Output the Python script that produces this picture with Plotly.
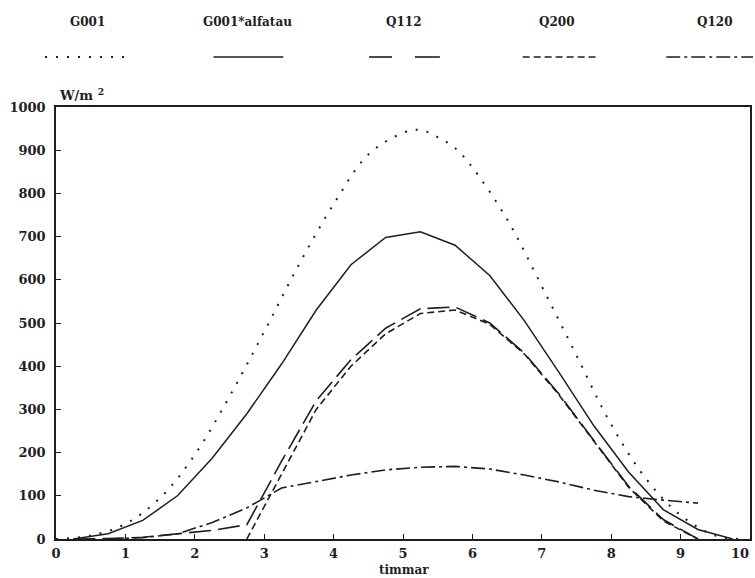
import plotly.graph_objects as go

# Solar irradiance on a surface over the day, hours after sunrise
t_g001 = [0.0, 0.5, 1.0, 1.5, 2.0, 2.5, 3.0, 3.5, 4.0, 4.5, 5.0, 5.25, 5.5, 5.75,
          6.0, 6.5, 7.0, 7.5, 8.0, 8.5, 9.0, 9.5, 9.9]
g001 = [0, 8, 35, 95, 195, 330, 480, 635, 775, 890, 940, 947, 930, 905,
        860, 740, 585, 425, 265, 140, 55, 8, 0]

t_half = [0.25, 0.75, 1.25, 1.75, 2.25, 2.75, 3.25, 3.75, 4.25, 4.75,
          5.25, 5.75, 6.25, 6.75, 7.25, 7.75, 8.25, 8.75, 9.25, 9.75]
g001_alfatau = [0, 12, 43, 100, 187, 290, 405, 530, 635, 698,
                711, 680, 610, 505, 385, 262, 155, 68, 22, 0]

t_q112 = [0.25, 0.75, 1.25, 1.75, 2.25, 2.75, 3.25, 3.75, 4.25, 4.75,
          5.25, 5.75, 6.25, 6.75, 7.25, 7.75, 8.25, 8.75, 9.25]
q112 = [0, 1, 4, 12, 20, 33, 180, 320, 415, 488,
        533, 537, 500, 430, 335, 228, 122, 45, 0]

t_q200 = [2.75, 3.25, 3.75, 4.25, 4.75, 5.25, 5.75, 6.25, 6.75, 7.25,
          7.75, 8.25, 8.75, 9.25]
q200 = [0, 150, 300, 400, 475, 522, 530, 497, 428, 333,
        226, 120, 42, 0]

t_q120 = [0.75, 1.25, 1.75, 2.25, 2.75, 3.25, 3.75, 4.25, 4.75, 5.25,
          5.75, 6.25, 6.75, 7.25, 7.75, 8.25, 8.75, 9.25]
q120 = [0, 3, 12, 38, 72, 118, 133, 148, 160, 166,
        168, 162, 148, 132, 113, 98, 90, 83]

x_ticks = list(range(0, 11))
y_ticks = list(range(0, 1001, 100))

series_names = ["G001", "G001*alfatau", "Q112", "Q200", "Q120"]
INK = "#1e1e1e"
FONT = "DejaVu Serif"

# (x data, y data, dash pattern, width, shape)
styles = [
    (t_g001, g001, "2px,9px", 2.0, "spline"),
    (t_half, g001_alfatau, "solid", 1.5, "linear"),
    (t_q112, q112, "22px,7px", 1.6, "linear"),
    (t_q200, q200, "7px,4px", 1.6, "linear"),
    (t_q120, q120, "14px,4px,3px,4px", 1.6, "linear"),
]

fig = go.Figure()
for name, (xs, ys, dash, w, shape) in zip(series_names, styles):
    fig.add_trace(go.Scatter(
        x=xs, y=ys, mode="lines", name=name,
        line=dict(color=INK, width=w, dash=dash, shape=shape),
        showlegend=False,
    ))

L, R, T, B = 56, 3, 107, 39
W, H = 755, 578
PW, PH = W - L - R, H - T - B


def px(xpix):
    return (xpix - L) / PW


def py(ypix):
    return (H - B - ypix) / PH


annotations = []
shapes = []

# Legend row: label above a sample of each line style
legend_label_x = [88, 248, 405, 558, 717]
legend_samples = [
    [(45, 128)],
    [(214, 284)],
    [(370, 393), (416, 441)],
    [(524, 597)],
    [(668, 755)],
]
for name, lx, segs, (_, _, dash, w, _) in zip(series_names, legend_label_x,
                                              legend_samples, styles):
    annotations.append(dict(
        x=px(lx), y=py(22), xref="paper", yref="paper", text=name,
        showarrow=False, xanchor="center", yanchor="middle",
        font=dict(family=FONT, size=12, color=INK, weight="bold"),
    ))
    for x0, x1 in segs:
        seg_dash = "solid" if name == "Q112" else dash
        shapes.append(dict(
            type="line", xref="paper", yref="paper",
            x0=px(x0), x1=px(x1), y0=py(57), y1=py(57),
            line=dict(color=INK, width=w, dash=seg_dash),
        ))

# Unit label over the y axis
annotations.append(dict(
    x=px(57), y=py(94), xref="paper", yref="paper",
    text="W/m <sup>2</sup>", showarrow=False, xanchor="left", yanchor="middle",
    font=dict(family=FONT, size=13, color=INK, weight="bold"),
))
# x axis title
annotations.append(dict(
    x=px(405), y=py(570), xref="paper", yref="paper",
    text="timmar", showarrow=False, xanchor="center", yanchor="middle",
    font=dict(family=FONT, size=12, color=INK, weight="bold"),
))
# last x tick label, pulled in to stay on the page
annotations.append(dict(
    x=px(742), y=py(553), xref="paper", yref="paper",
    text=str(x_ticks[-1]), showarrow=False, xanchor="center", yanchor="middle",
    font=dict(family=FONT, size=13, color=INK, weight="bold"),
))

fig.update_layout(
    width=W, height=H,
    margin=dict(l=L, r=R, t=T, b=B),
    paper_bgcolor="white", plot_bgcolor="white",
    font=dict(family=FONT, size=13, color=INK),
    annotations=annotations, shapes=shapes,
)
fig.update_xaxes(
    range=[0, 10], tickvals=x_ticks[:-1],
    ticktext=[str(v) for v in x_ticks[:-1]],
    ticks="inside", ticklen=5, tickwidth=1.3, tickcolor=INK,
    showline=True, linecolor=INK, linewidth=1.5, mirror=True,
    showgrid=False, zeroline=False,
    tickfont=dict(family=FONT, size=13, color=INK, weight="bold"),
    ticklabelstandoff=2,
)
fig.update_yaxes(
    range=[0, 1000], tickvals=y_ticks,
    ticks="inside", ticklen=5, tickwidth=1.3, tickcolor=INK,
    showline=True, linecolor=INK, linewidth=1.5, mirror=True,
    showgrid=False, zeroline=False,
    tickfont=dict(family=FONT, size=13, color=INK, weight="bold"),
    ticklabelstandoff=6,
)

fig.write_html("out.html")
